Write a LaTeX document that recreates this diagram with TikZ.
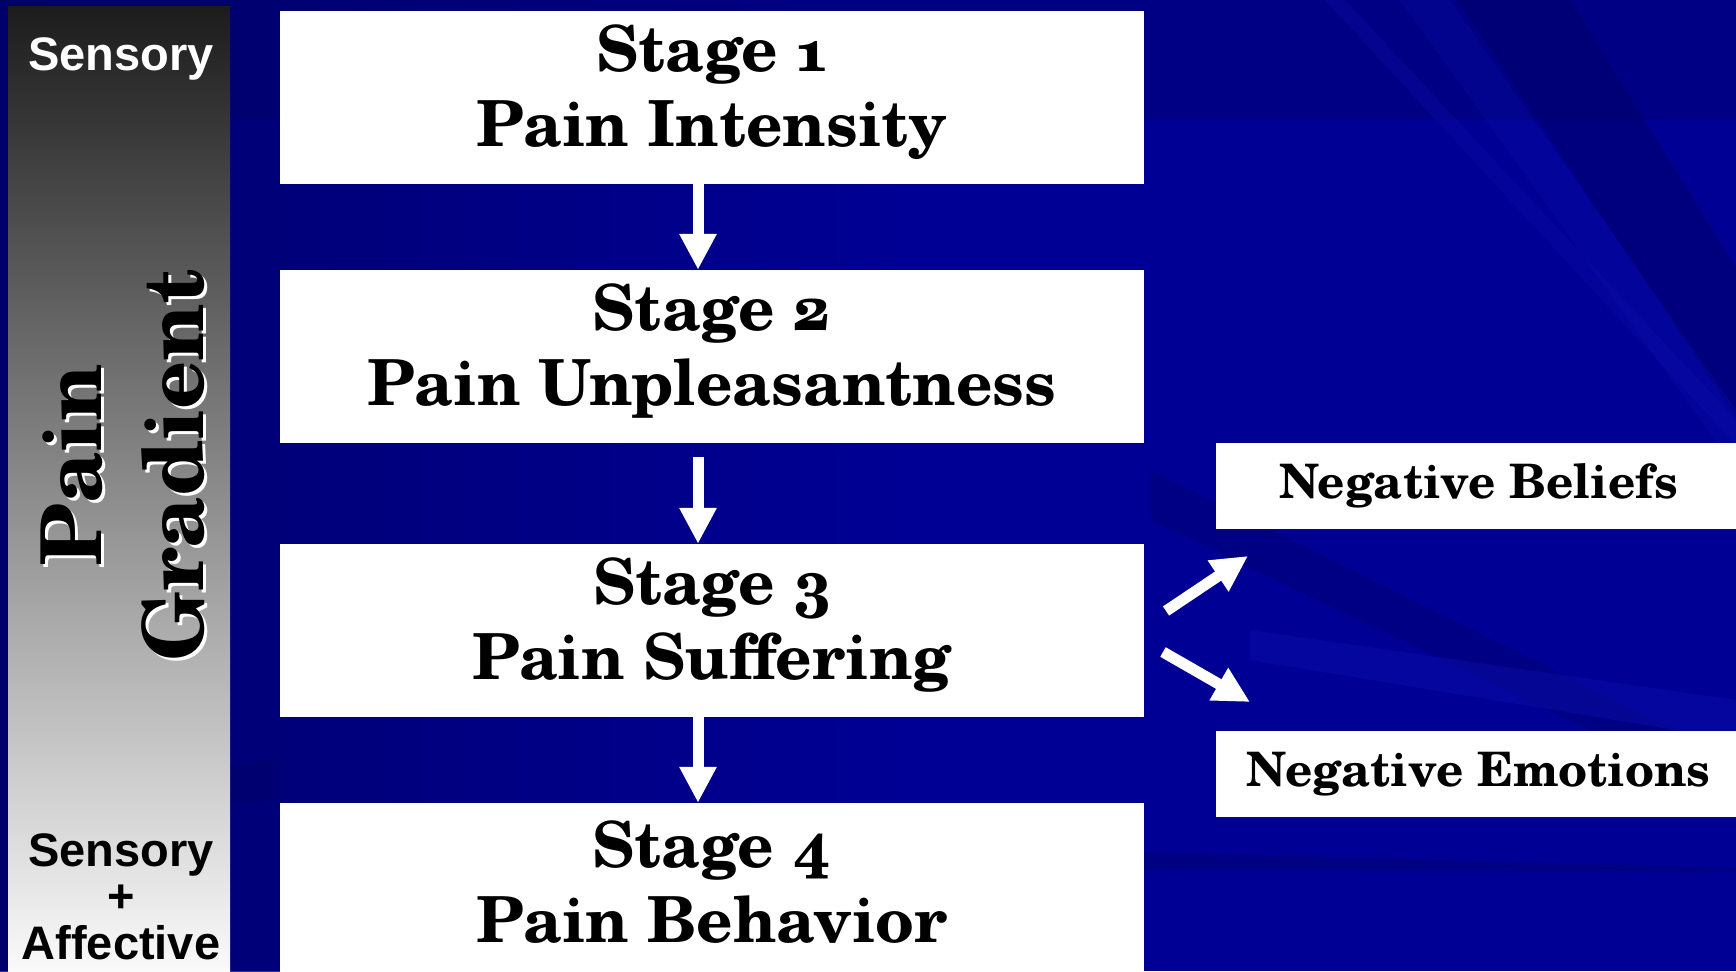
\documentclass[tikz,border=0pt]{standalone}
\usepackage{fontspec}
\setmainfont{texgyreschola}[Extension=.otf, UprightFont=*-regular, BoldFont=*-bold, ItalicFont=*-italic, BoldItalicFont=*-bolditalic, Numbers=OldStyle]
\newfontfamily\headsans{Liberation Sans}
\usetikzlibrary{arrows.meta}

\definecolor{bgblue}{RGB}{0,0,148}
\definecolor{bgdark}{RGB}{0,0,100}
\definecolor{bglight}{RGB}{14,16,172}
\definecolor{bartop}{RGB}{28,28,28}
\definecolor{barbot}{RGB}{250,250,250}

\tikzset{
  stagebox/.style={fill=white, minimum width=864, minimum height=173, inner sep=0pt},
  stagetext/.style={inner sep=0pt, align=center, text=black,
    font=\bfseries\fontsize{63.5}{75}\selectfont},
  sidebox/.style={fill=white, minimum width=525, minimum height=86, inner sep=0pt,
    text=black, font=\bfseries\fontsize{47.5}{55}\selectfont},
  flow/.style={draw=white, line width=11pt,
    -{Triangle[width=35pt,length=36pt]}},
  sidelabel/.style={font=\headsans\bfseries\fontsize{47}{52}\selectfont, anchor=base, inner sep=0pt},
  gradlabel/.style={font=\bfseries\fontsize{84}{90}\selectfont, rotate=90, anchor=base, inner sep=0pt}
}

\begin{document}
\begin{tikzpicture}[x=1pt, y=-1pt]
\useasboundingbox (0,0) rectangle (1736,971);

% backdrop: deep blue with soft diagonal streaks
\fill[bgblue] (0,0) rectangle (1736,971);
\shade[left color=bgdark, right color=bgblue, opacity=0.8] (0,0) rectangle (900,971);
\fill[bgdark, opacity=0.3] (0,0) rectangle (1736,120);
\fill[bgdark, opacity=0.45] (1457,0) -- (1570,0) -- (1736,267) -- (1736,417) -- cycle;
\fill[bglight, opacity=0.3] (1325,0) -- (1345,0) -- (1736,420) -- (1736,445) -- cycle;
\fill[bglight, opacity=0.25] (1400,0) -- (1450,0) -- (1736,410) -- (1736,470) -- cycle;
\fill[bgdark, opacity=0.3] (1150,470) -- (1736,760) -- (1736,800) -- (1150,520) -- cycle;
\fill[bglight, opacity=0.4] (1250,630) -- (1736,700) -- (1736,740) -- (1250,660) -- cycle;
\fill[bgdark, opacity=0.3] (0,780) -- (280,760) -- (280,800) -- (0,820) -- cycle;
\fill[bgdark, opacity=0.35] (1144,852) -- (1736,868) -- (1736,872) -- (1144,870) -- cycle;

% gradient column on the left
\shade[top color=bartop, bottom color=barbot] (8,7) rectangle (230,971);

\node[sidelabel, text=white] (sens) at (121,71) {Sensory};
\node[sidelabel, text=black, align=center, font=\headsans\bfseries\fontsize{47}{46.5}\selectfont]
  (sensaff) at (121,959) {Sensory\\+\\Affective};

\node[gradlabel, text=white] at (104,468) {Pain};
\node[gradlabel, text=black] (pain) at (101,465) {Pain};
\node[gradlabel, text=white] at (206,468) {Gradient};
\node[gradlabel, text=black] (grad) at (203,465) {Gradient};

% the four stages
\node[stagebox] (s1) at (712,97.5)  {};
\node[stagebox] (s2) at (712,356.5) {};
\node[stagebox] (s3) at (712,630.5) {};
\node[stagebox] (s4) at (712,889.5) {};
\node[stagetext] (t1) at ([yshift=5pt]s1.center) {Stage 1\\Pain Intensity};
\node[stagetext] (t2) at ([yshift=5pt]s2.center) {Stage 2\\Pain Unpleasantness};
\node[stagetext] (t3) at ([yshift=5pt]s3.center) {Stage 3\\Pain Suffering};
\node[stagetext] (t4) at ([yshift=7pt]s4.center) {Stage 4\\Pain Behavior};

% side outcomes
\node[sidebox] (nb) at (1478.5,486) {Negative Beliefs};
\node[sidebox] (ne) at (1478.5,774) {Negative Emotions};

% flow between stages
\draw[flow] ([xshift=-14pt]s1.south) -- ([xshift=-14pt]s2.north);
\draw[flow, shorten <=14pt] ([xshift=-14pt]s2.south) -- ([xshift=-14pt]s3.north);
\draw[flow] ([xshift=-14pt]s3.south) -- ([xshift=-14pt]s4.north);

% branches out of stage 3
\coordinate (up0) at (1166,611);
\coordinate (up1) at (1248,556);
\coordinate (dn0) at (1163,652);
\coordinate (dn1) at (1250,702);
\draw[flow] (up0) -- (up1);
\draw[flow] (dn0) -- (dn1);
\end{tikzpicture}
\end{document}
